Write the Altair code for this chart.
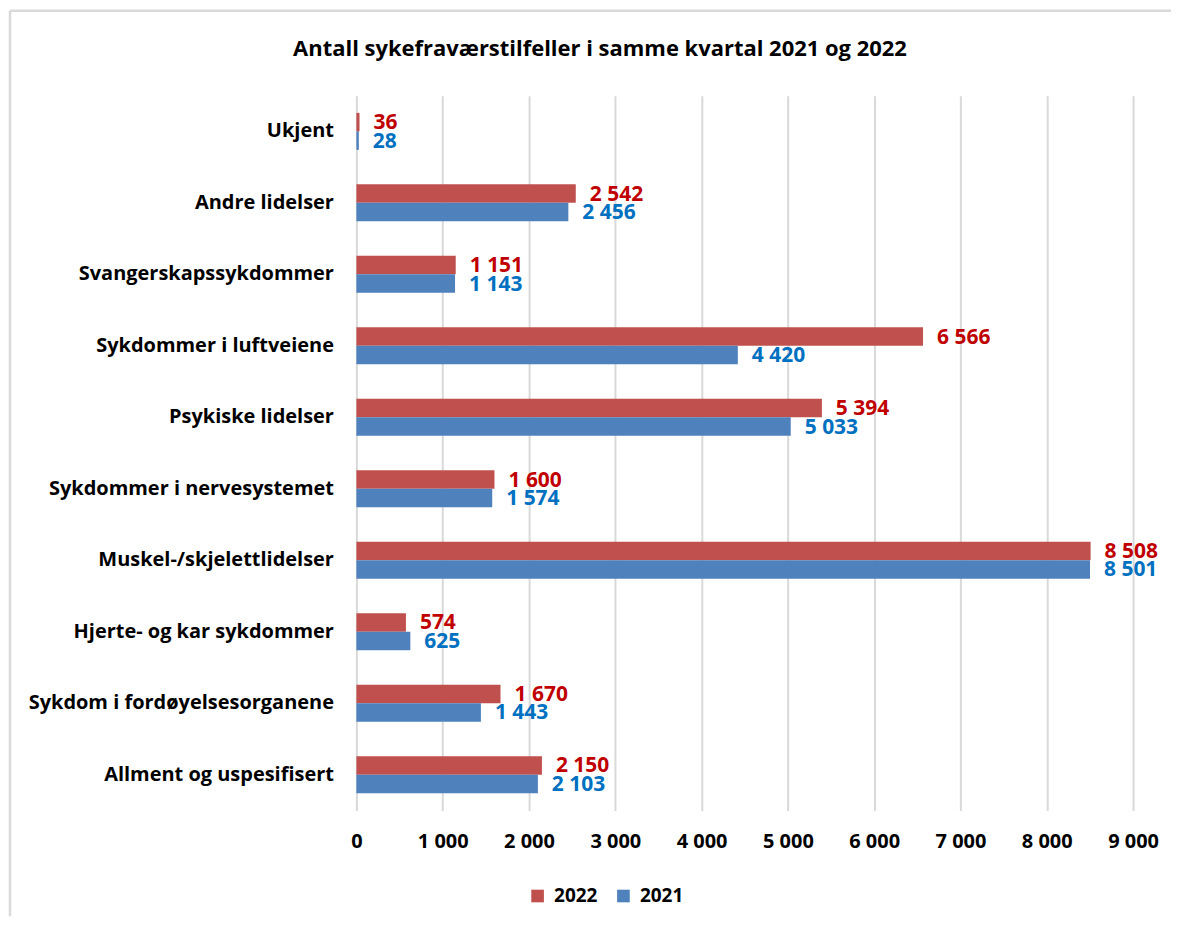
import altair as alt
import pandas as pd

categories = [
    "Ukjent",
    "Andre lidelser",
    "Svangerskapssykdommer",
    "Sykdommer i luftveiene",
    "Psykiske lidelser",
    "Sykdommer i nervesystemet",
    "Muskel-/skjelettlidelser",
    "Hjerte- og kar sykdommer",
    "Sykdom i fordøyelsesorganene",
    "Allment og uspesifisert",
]
values_2022 = [36, 2542, 1151, 6566, 5394, 1600, 8508, 574, 1670, 2150]
values_2021 = [28, 2456, 1143, 4420, 5033, 1574, 8501, 625, 1443, 2103]
years = ["2022", "2021"]
bar_colors = ["#C0504D", "#4F81BD"]
label_colors = ["#C00000", "#0070C0"]
x_ticks = list(range(0, 9001, 1000))
title_text = "Antall sykefraværstilfeller i samme kvartal 2021 og 2022"

FONT = "Open Sans"

rows = []
for cat, a, b in zip(categories, values_2022, values_2021):
    for yr, v in (("2022", a), ("2021", b)):
        rows.append({"kategori": cat, "år": yr, "antall": v,
                     "tekst": f"{v:,}".replace(",", " ")})
df = pd.DataFrame(rows)

base = alt.Chart(df).encode(
    y=alt.Y("kategori:N", sort=categories,
            scale=alt.Scale(paddingInner=0.483, paddingOuter=0.2415),
            axis=alt.Axis(title=None, labelFont=FONT, labelFontSize=20,
                          labelFontWeight="bold", labelColor="black",
                          labelPadding=23, ticks=False, domain=False,
                          grid=False, labelLimit=400)),
    x=alt.X("antall:Q", scale=alt.Scale(domain=[0, 9000], nice=False),
            axis=alt.Axis(values=x_ticks, title=None,
                          labelExpr="replace(format(datum.value, ','), ',', ' ')",
                          labelFlush=False, labelOverlap=False,
                          ticks=False, domain=False, gridColor="#D9D9D9",
                          gridWidth=2, labelFont=FONT, labelFontSize=20,
                          labelFontWeight="bold", labelColor="black",
                          labelPadding=21)),
    yOffset=alt.YOffset("år:N", sort=years,
                        scale=alt.Scale(paddingInner=0, paddingOuter=0)),
)

bars = base.mark_bar().encode(
    color=alt.Color("år:N", sort=years,
                    scale=alt.Scale(domain=years, range=bar_colors),
                    legend=alt.Legend(title=None, orient="none", legendX=172,
                                      legendY=792, direction="horizontal",
                                      symbolType="square", symbolSize=160,
                                      symbolStrokeWidth=0, labelFont=FONT,
                                      labelFontSize=19, labelFontWeight="bold",
                                      labelColor="black", labelOffset=7,
                                      columnPadding=16, padding=0))
)

labels = base.mark_text(align="left", baseline="middle", dx=14, dy=1,
                        font=FONT, fontSize=21, fontWeight="bold").encode(
    text="tekst:N",
    color=alt.Color("år:N", scale=alt.Scale(domain=years, range=label_colors),
                    legend=None),
)

one = pd.DataFrame({"t": [title_text]})
title = alt.Chart(one).mark_text(font=FONT, fontSize=22, fontWeight="bold",
                                 align="center", baseline="alphabetic",
                                 color="black").encode(
    text="t:N", x=alt.value(244), y=alt.value(-40))

frame_top = alt.Chart(one).mark_rule(color="#D9D9D9", strokeWidth=2.5).encode(
    x=alt.value(-347), x2=alt.value(816), y=alt.value(-85))
frame_left = alt.Chart(one).mark_rule(color="#D9D9D9", strokeWidth=2.5).encode(
    x=alt.value(-347), y=alt.value(-85), y2=alt.value(822))

chart = alt.layer(frame_top, frame_left, title, bars, labels).resolve_scale(
    color="independent"
).properties(width=778, height=716, padding=0).configure_view(stroke=None)

chart.save("out.html", embed_options={"renderer": "svg", "actions": False})
